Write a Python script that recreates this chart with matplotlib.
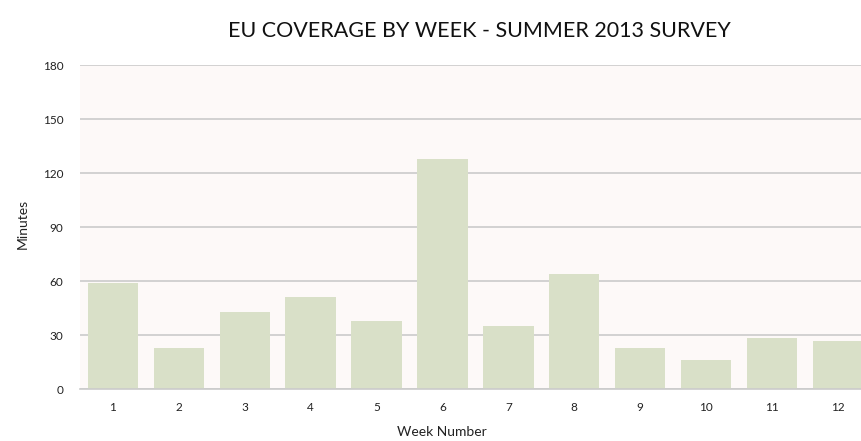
import matplotlib.pyplot as plt

# Minutes of EU coverage per survey week
weeks = ["1", "2", "3", "4", "5", "6", "7", "8", "9", "10", "11", "12"]
minutes = [59, 23, 43, 51, 38, 128, 35, 64, 23, 16, 28.5, 26.5]
y_ticks = [0, 30, 60, 90, 120, 150, 180]

plt.rcParams["font.family"] = ["Lato", "DejaVu Sans"]

fig = plt.figure(figsize=(8.62, 4.41), dpi=100)
# axes runs slightly past the right edge, so the last bar gets cut off
ax = fig.add_axes([0.0928, 0.1179, 0.9174, 0.734])

ax.set_facecolor("#fdf9f8")
x = range(len(weeks))
ax.bar(x, minutes, width=0.766, color="#d9e0c8", zorder=3)

ax.set_xlim(-0.5, len(weeks) - 0.5)
ax.set_ylim(0, 180)
ax.set_yticks(y_ticks)
ax.set_xticks(list(x))
ax.set_xticklabels(weeks)
ax.tick_params(axis="both", length=0, labelsize=8.5, colors="#222222")
ax.tick_params(axis="x", pad=9)
ax.tick_params(axis="y", pad=12)

ax.grid(True, axis="y", color="#cbcbcb", linewidth=1.2, zorder=0)
for side in ["top", "right", "left"]:
    ax.spines[side].set_visible(False)
ax.spines["bottom"].set_color("#cbcbcb")
ax.spines["bottom"].set_linewidth(1.2)
ax.spines["bottom"].set_zorder(4)

ax.set_xlabel("Week Number", fontsize=10, color="#222222")
ax.xaxis.set_label_coords(0.457, -0.115)
ax.set_ylabel("Minutes", fontsize=10, color="#222222")
ax.yaxis.set_label_coords(-0.065, 0.51)

fig.text(0.556, 0.93, "EU COVERAGE BY WEEK - SUMMER 2013 SURVEY",
         ha="center", va="center", fontsize=15.5, color="#111111")

plt.savefig("out.png")
